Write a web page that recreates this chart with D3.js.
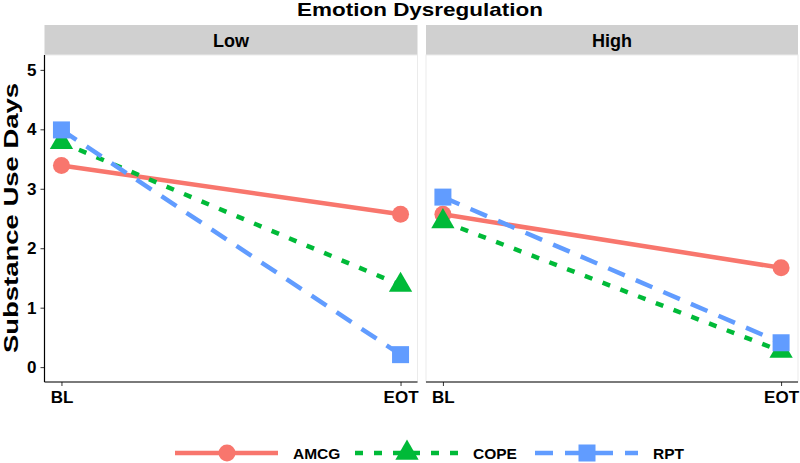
<!DOCTYPE html>
<html><head><meta charset="utf-8">
<script src="https://cdn.jsdelivr.net/npm/d3@7"></script>
<style>body{margin:0;background:#fff}text{font-family:"Liberation Sans",Arial,sans-serif;font-weight:bold}</style>
</head><body><svg id="c" width="800" height="463"></svg>
<script>
const panels = ["Low", "High"];
const times = ["BL", "EOT"];
const groups = ["AMCG", "COPE", "RPT"];
const colors = ["#F8766D", "#00BA38", "#619CFF"];
const dashes = ["none", "8,11", "18,12"];
const shapes = ["circle", "triangle", "square"];
const amcgLow = [3.39, 2.57];
const copeLow = [3.78, 1.38];
const rptLow = [3.99, 0.21];
const amcgHigh = [2.57, 1.67];
const copeHigh = [2.45, 0.27];
const rptHigh = [2.86, 0.41];
const yTicks = [0, 1, 2, 3, 4, 5];

const data = {
  Low: [amcgLow, copeLow, rptLow],
  High: [amcgHigh, copeHigh, rptHigh]
};

const svg = d3.select("#c");
const yTop = 55, yBottom = 382;
const panelX = [[44.5, 417.5], [426, 798]];
const y = d3.scaleLinear().domain([-0.25, 5.25]).range([yBottom, yTop]);

svg.append("text").attr("x", 420).attr("y", 16).attr("text-anchor", "middle")
  .attr("font-size", 19).attr("textLength", 246).attr("lengthAdjust", "spacingAndGlyphs").text("Emotion Dysregulation");

svg.append("text").attr("transform", "translate(18," + 218 + ") rotate(-90)")
  .attr("text-anchor", "middle").attr("font-size", 20.5).attr("textLength", 270).attr("lengthAdjust", "spacingAndGlyphs").text("Substance Use Days");

function drawShape(g, shape, cx, cy, col, s) {
  if (shape === "circle") g.append("circle").attr("cx", cx).attr("cy", cy).attr("r", 8.5 * s).attr("fill", col);
  else if (shape === "square") g.append("rect").attr("x", cx - 8.5 * s).attr("y", cy - 8.5 * s).attr("width", 17 * s).attr("height", 17 * s).attr("fill", col);
  else {
    const sym = d3.symbol().type(d3.symbolTriangle).size(235 * s * s);
    g.append("path").attr("d", sym()).attr("transform", "translate(" + cx + "," + (cy) + ")").attr("fill", col);
  }
}

panels.forEach((p, pi) => {
  const [x0, x1] = panelX[pi];
  const xs = d3.scaleLinear().domain([-0.05, 1.05]).range([x0, x1]);
  const xp = t => xs(times.indexOf(t));
  const g = svg.append("g");
  g.append("rect").attr("x", x0).attr("y", 25).attr("width", x1 - x0).attr("height", 30).attr("fill", "#d0d0d0");
  g.append("text").attr("x", (x0 + x1) / 2).attr("y", 46.5).attr("text-anchor", "middle").attr("font-size", 18).text(p);
  g.append("rect").attr("x", x0).attr("y", yTop).attr("width", x1 - x0).attr("height", yBottom - yTop)
    .attr("fill", "none").attr("stroke", "#ebebeb").attr("stroke-width", 1);
  const xAxis = d3.axisBottom(d3.scaleOrdinal().domain(times).range(times.map(xp))).tickSize(4).tickPadding(5);
  const ax = g.append("g").attr("transform", "translate(0," + yBottom + ")").call(xAxis);
  ax.select(".domain").remove();
  g.append("line").attr("x1", x0).attr("x2", x1).attr("y1", yBottom).attr("y2", yBottom).attr("stroke", "#000").attr("stroke-width", 1.2);
  ax.selectAll("text").attr("font-size", 17).attr("fill", "#000").attr("font-family", "Liberation Sans, Arial").attr("font-weight", "bold");
  ax.selectAll("line").attr("stroke", "#333");
  if (pi === 0) {
    const yAx = g.append("g").attr("transform", "translate(" + x0 + ",0)").call(d3.axisLeft(y).tickValues(yTicks).tickSize(4).tickPadding(4).tickFormat(d3.format("d")));
    yAx.select(".domain").remove();
    yAx.selectAll("text").attr("font-size", 17).attr("fill", "#000").attr("font-family", "Liberation Sans, Arial").attr("font-weight", "bold");
    yAx.selectAll("line").attr("stroke", "#333");
    g.append("line").attr("x1", x0).attr("x2", x0).attr("y1", yTop).attr("y2", yBottom).attr("stroke", "#000").attr("stroke-width", 1.2);
  }
  const line = d3.line().x((d, i) => xp(times[i])).y(d => y(d));
  data[p].forEach((vals, gi) => {
    g.append("path").attr("d", line(vals)).attr("fill", "none").attr("stroke", colors[gi])
      .attr("stroke-width", 4.5).attr("stroke-dasharray", dashes[gi]);
  });
  data[p].forEach((vals, gi) => {
    vals.forEach((v, i) => drawShape(g, shapes[gi], xp(times[i]), y(v), colors[gi], 1));
  });
});

const legX = [175, 355, 535];
const lg = svg.append("g");
groups.forEach((gname, gi) => {
  const lx = legX[gi], ly = 453;
  lg.append("line").attr("x1", lx).attr("x2", lx + 103).attr("y1", ly).attr("y2", ly)
    .attr("stroke", colors[gi]).attr("stroke-width", 4.5).attr("stroke-dasharray", dashes[gi]);
  drawShape(lg, shapes[gi], lx + 52, ly, colors[gi], 1);
  lg.append("text").attr("x", lx + 118).attr("y", ly + 6).attr("font-size", 15.5).text(gname);
});
</script></body></html>
